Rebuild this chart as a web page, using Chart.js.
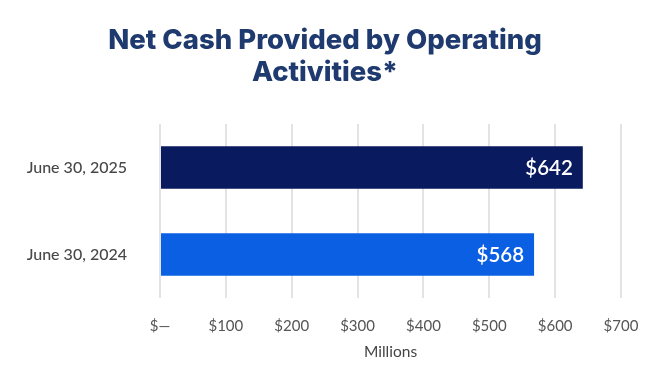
<!DOCTYPE html>
<html>
<head>
<meta charset="utf-8">
<script src="https://cdn.jsdelivr.net/npm/chart.js@4"></script>
<style>
html,body{margin:0;padding:0;background:#fff;}
#wrap{width:650px;height:390px;position:relative;}
</style>
</head>
<body>
<div id="wrap"><canvas id="c" width="650" height="390"></canvas></div>
<script>
const categories = ["June 30, 2025", "June 30, 2024"];
const values = [642, 568];
const barColors = ["#0a1a5e", "#0b5fe3"];
const valueLabels = ["$642", "$568"];
const tickLabels = {0:"$—",100:"$100",200:"$200",300:"$300",400:"$400",500:"$500",600:"$600",700:"$700"};
const titleLines = ["Net Cash Provided by Operating", "Activities*"];
const axisTitle = "Millions";

const labelPlugin = {
  id: 'barLabels',
  afterDatasetsDraw(chart) {
    const ctx = chart.ctx;
    const meta = chart.getDatasetMeta(0);
    ctx.save();
    ctx.fillStyle = '#ffffff';
    ctx.font = '600 20.5px Lato, "Open Sans", sans-serif';
    ctx.textAlign = 'right';
    ctx.textBaseline = 'middle';
    meta.data.forEach((bar, i) => {
      ctx.fillText(valueLabels[i], bar.x - 10, bar.y + 1);
    });
    ctx.restore();
  }
};

const titlePlugin = {
  id: 'pageTitle',
  afterDraw(chart) {
    const ctx = chart.ctx;
    const area = chart.chartArea;
    ctx.save();
    ctx.fillStyle = '#1f3a6e';
    ctx.font = '800 27.5px Inter, "Open Sans", sans-serif';
    ctx.textAlign = 'center';
    ctx.textBaseline = 'middle';
    ctx.fillText(titleLines[0], chart.width / 2, 41);
    ctx.fillText(titleLines[1], chart.width / 2, 73);
    ctx.fillStyle = '#444444';
    ctx.font = '15.5px Lato, "Open Sans", sans-serif';
    ctx.fillText(axisTitle, (area.left + area.right) / 2, 352);
    ctx.restore();
  }
};

new Chart(document.getElementById('c'), {
  type: 'bar',
  data: {
    labels: categories,
    datasets: [{
      data: values,
      backgroundColor: barColors,
      borderWidth: 0,
      barPercentage: 0.486,
      categoryPercentage: 1.0
    }]
  },
  options: {
    indexAxis: 'y',
    responsive: false,
    animation: false,
    devicePixelRatio: 1,
    layout: { autoPadding: false, padding: { left: 0, right: 29, top: 124, bottom: 36 } },
    plugins: {
      legend: { display: false },
      tooltip: { enabled: false },
      title: { display: false }
    },
    scales: {
      x: {
        min: 0, max: 700,
        afterFit: (s) => { s.paddingRight = 0; s.paddingLeft = 0; },
        ticks: {
          stepSize: 100,
          color: '#555555',
          padding: 19,
          maxRotation: 0,
          font: { family: 'Lato, "Open Sans", sans-serif', size: 15 },
          callback: (v) => tickLabels[v]
        },
        grid: { color: '#e3e3e6', lineWidth: 2, drawTicks: false },
        border: { display: false }
      },
      y: {
        afterFit: (s) => { s.width = 160; },
        ticks: {
          color: '#484848',
          padding: 33,
          font: { family: 'Lato, "Open Sans", sans-serif', size: 16, weight: '500' }
        },
        grid: { display: false, drawTicks: false },
        border: { display: false }
      }
    }
  },
  plugins: [labelPlugin, titlePlugin]
});
</script>
</body>
</html>
